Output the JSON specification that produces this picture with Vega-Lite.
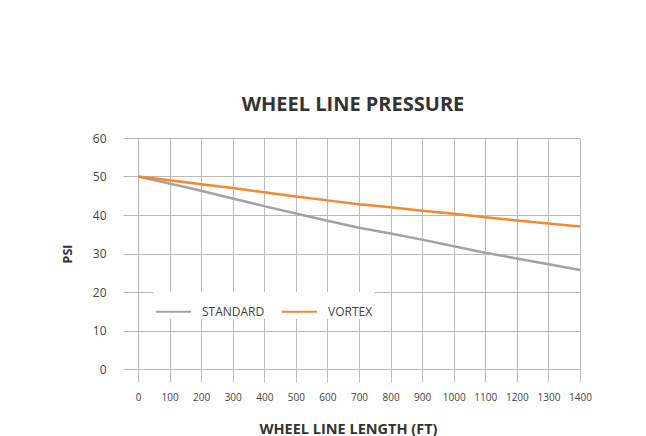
{
  "$schema": "https://vega.github.io/schema/vega-lite/v6.json",
  "width": 442,
  "height": 231,
  "autosize": {"type": "none"},
  "padding": {"left": 138, "top": 138, "right": 66, "bottom": 67},
  "background": "white",
  "config": {
    "font": "Open Sans",
    "view": {"stroke": null}
  },
  "title": {
    "text": "WHEEL LINE PRESSURE",
    "fontSize": 20,
    "fontWeight": "bold",
    "color": "#333333",
    "font": "Open Sans",
    "offset": 17,
    "dx": -6
  },
  "data": {
    "values": [
      {"length": 0, "psi": 50, "type": "STANDARD"},
      {"length": 100, "psi": 48.2, "type": "STANDARD"},
      {"length": 200, "psi": 46.3, "type": "STANDARD"},
      {"length": 300, "psi": 44.3, "type": "STANDARD"},
      {"length": 400, "psi": 42.3, "type": "STANDARD"},
      {"length": 500, "psi": 40.4, "type": "STANDARD"},
      {"length": 600, "psi": 38.5, "type": "STANDARD"},
      {"length": 700, "psi": 36.7, "type": "STANDARD"},
      {"length": 800, "psi": 35.2, "type": "STANDARD"},
      {"length": 900, "psi": 33.6, "type": "STANDARD"},
      {"length": 1000, "psi": 31.9, "type": "STANDARD"},
      {"length": 1100, "psi": 30.2, "type": "STANDARD"},
      {"length": 1200, "psi": 28.7, "type": "STANDARD"},
      {"length": 1300, "psi": 27.2, "type": "STANDARD"},
      {"length": 1400, "psi": 25.7, "type": "STANDARD"},
      {"length": 0, "psi": 50, "type": "VORTEX"},
      {"length": 100, "psi": 49.0, "type": "VORTEX"},
      {"length": 200, "psi": 48.0, "type": "VORTEX"},
      {"length": 300, "psi": 47.0, "type": "VORTEX"},
      {"length": 400, "psi": 45.9, "type": "VORTEX"},
      {"length": 500, "psi": 44.8, "type": "VORTEX"},
      {"length": 600, "psi": 43.8, "type": "VORTEX"},
      {"length": 700, "psi": 42.8, "type": "VORTEX"},
      {"length": 800, "psi": 42.0, "type": "VORTEX"},
      {"length": 900, "psi": 41.1, "type": "VORTEX"},
      {"length": 1000, "psi": 40.3, "type": "VORTEX"},
      {"length": 1100, "psi": 39.4, "type": "VORTEX"},
      {"length": 1200, "psi": 38.6, "type": "VORTEX"},
      {"length": 1300, "psi": 37.8, "type": "VORTEX"},
      {"length": 1400, "psi": 37.0, "type": "VORTEX"}
    ]
  },
  "mark": {"type": "line", "strokeWidth": 2.5},
  "encoding": {
    "x": {
      "field": "length",
      "type": "quantitative",
      "scale": {"domain": [0, 1400], "nice": false},
      "axis": {
        "title": "WHEEL LINE LENGTH (FT)",
        "titleFontSize": 14.5,
        "titleFontWeight": "bold",
        "titleColor": "#333333",
        "titleX": 210,
        "titlePadding": 20,
        "format": "d",
        "values": [0, 100, 200, 300, 400, 500, 600, 700, 800, 900, 1000, 1100, 1200, 1300, 1400],
        "labelFontSize": 10,
        "labelColor": "#444444",
        "labelPadding": 10,
        "tickSize": 13,
        "tickColor": "#bbbbbb",
        "gridColor": "#bbbbbb",
        "domain": false,
        "labelFlush": false
      }
    },
    "y": {
      "field": "psi",
      "type": "quantitative",
      "scale": {"domain": [0, 60], "nice": false},
      "axis": {
        "title": "PSI",
        "titleFontSize": 12.5,
        "titleFontWeight": "bold",
        "titleColor": "#333333",
        "titlePadding": 18,
        "values": [0, 10, 20, 30, 40, 50, 60],
        "labelFontSize": 12,
        "labelColor": "#444444",
        "labelPadding": 17,
        "tickSize": 15,
        "tickColor": "#bbbbbb",
        "gridColor": "#bbbbbb",
        "domain": false
      }
    },
    "color": {
      "field": "type",
      "type": "nominal",
      "scale": {"domain": ["STANDARD", "VORTEX"], "range": ["#a3a3a3", "#f5872e"]},
      "legend": {
        "title": null,
        "orient": "none",
        "legendX": 16,
        "legendY": 154,
        "direction": "horizontal",
        "fillColor": "white",
        "padding": 1,
        "symbolType": "stroke",
        "symbolSize": 1225,
        "symbolStrokeWidth": 2,
        "labelFontSize": 12,
        "labelColor": "#444444",
        "labelOffset": 10,
        "columnPadding": 13
      }
    }
  }
}
